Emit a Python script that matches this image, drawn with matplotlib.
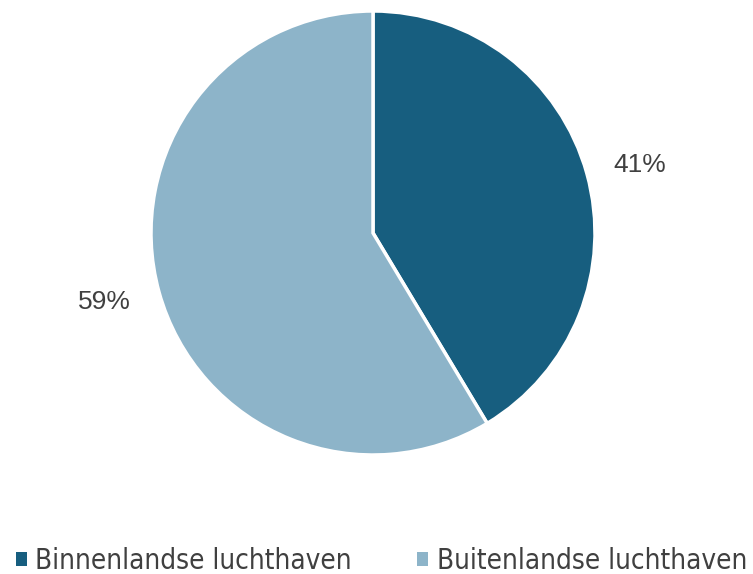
import matplotlib
matplotlib.use("Agg")
import matplotlib.pyplot as plt
from matplotlib.patches import Patch
from matplotlib import font_manager
from matplotlib.font_manager import FontProperties

categories = ["Binnenlandse luchthaven", "Buitenlandse luchthaven"]
values = [41.4, 58.6]
colors = ["#175E7F", "#8DB4C9"]

W, H = 753, 574
fig = plt.figure(figsize=(W / 100, H / 100), dpi=100)

cx, cy, r = 373, 574 - 233, 222
ax = fig.add_axes([(cx - r) / W, (cy - r) / H, 2 * r / W, 2 * r / H])
wedges, texts, autotexts = ax.pie(
    values, colors=colors, startangle=90, counterclock=False,
    autopct=lambda p: f"{p:.0f}%", pctdistance=1.25, radius=1,
    wedgeprops=dict(edgecolor="white", linewidth=2.5),
    textprops=dict(fontsize=19, color="#404040", family=["Liberation Sans", "DejaVu Sans"]))
label_pos = [(1.203, 0.306), (-1.209, -0.309)]
for t, p in zip(autotexts, label_pos):
    t.set_position(p)
ax.set_xlim(-1, 1)
ax.set_ylim(-1, 1)
ax.set_aspect("equal")
ax.axis("off")

# pick a condensed sans font if installed
cond = None
for f in font_manager.fontManager.ttflist:
    fn = f.fname.lower()
    if ("condensed" in fn or "narrow" in fn) and f.style == "normal" and f.weight in (400, "normal") \
            and "bold" not in fn and "oblique" not in fn and "italic" not in fn and "light" not in fn:
        if "dejavusans" in fn.replace("-", "").replace("_", "") or cond is None:
            cond = f.fname
if cond:
    prop = FontProperties(fname=cond, size=20)
    colsp = 2.34
    hl, hp = 0.4, 0.3
else:
    prop = FontProperties(family="DejaVu Sans", size=18)
    colsp = 2.2
    hl, hp = 0.45, 0.35

handles = [Patch(facecolor=c, edgecolor="none") for c in colors]
fig.legend(handles, categories, loc="center", bbox_to_anchor=(381.5 / W, 1 - 561 / H),
           ncol=2, frameon=False, handlelength=hl, handleheight=hl,
           handletextpad=hp, columnspacing=colsp, borderpad=0.0,
           prop=prop, labelcolor="#404040")

fig.savefig("out.png", dpi=100)
